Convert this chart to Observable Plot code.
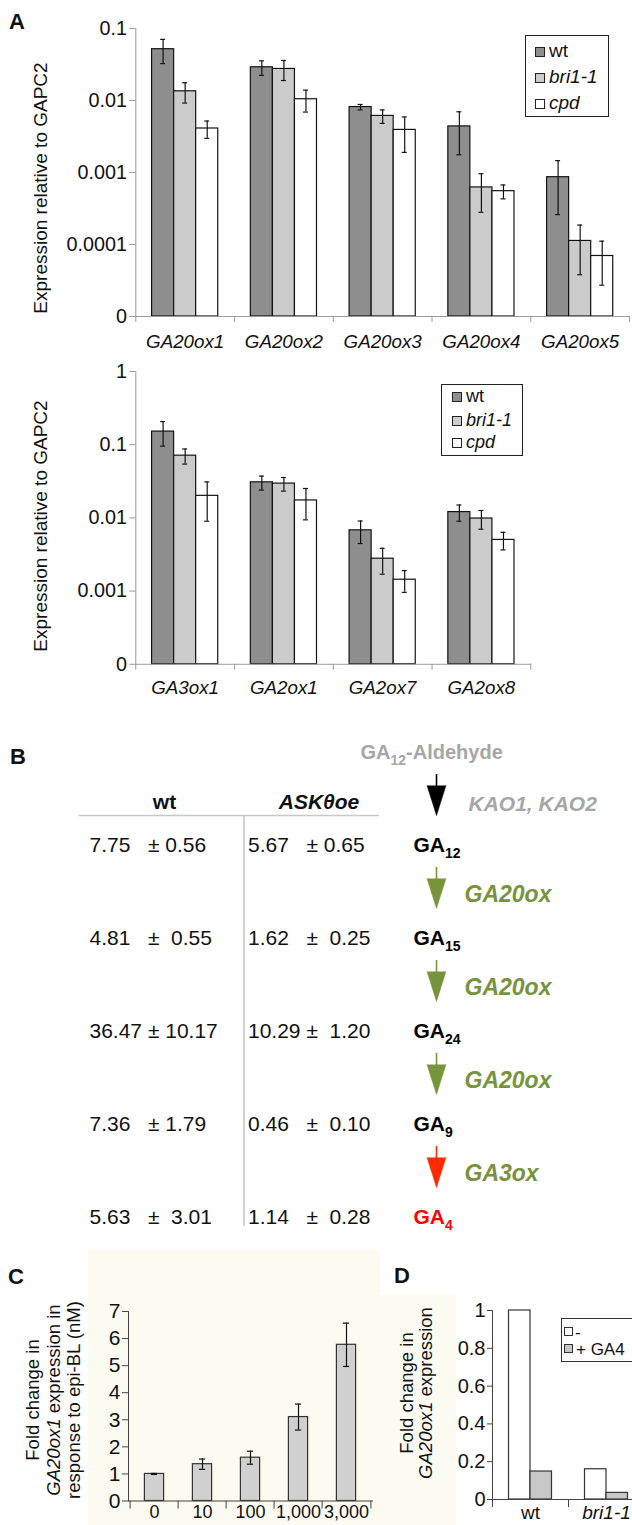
<!DOCTYPE html>
<html><head><meta charset="utf-8">
<script src="https://cdn.jsdelivr.net/npm/d3@7"></script>
<script src="https://cdn.jsdelivr.net/npm/@observablehq/plot@0.6"></script>
<style>
html,body{margin:0;padding:0;background:#fff;overflow:hidden}
#fig{position:relative;width:632px;height:1525px;overflow:hidden;background:#fff;font-family:"Liberation Sans",Arial,Helvetica,sans-serif;color:#111}
</style></head><body><div id="fig"></div>
<script>
// ---------- DATA ----------
const seriesA = ["wt", "bri1-1", "cpd"];
const fillA = ["#8e8e8e", "#cbcbcb", "#ffffff"];

const genesA1 = ["GA20ox1", "GA20ox2", "GA20ox3", "GA20ox4", "GA20ox5"];
const wtA1 = [0.0515, 0.0289, 0.0081, 0.00436, 0.00086];
const wtA1sd = [0.019, 0.0066, 0.0007, 0.0026, 0.0006];
const briA1 = [0.0134, 0.0274, 0.0061, 0.00062, 0.000112];
const briA1sd = [0.0042, 0.0085, 0.0013, 0.00034, 0.000074];
const cpdA1 = [0.00408, 0.0104, 0.0039, 0.00055, 0.0000692];
const cpdA1sd = [0.0011, 0.0035, 0.0020, 0.00012, 0.000042];
const ticksA1 = [0.00001, 0.0001, 0.001, 0.01, 0.1];

const genesA2 = ["GA3ox1", "GA2ox1", "GA2ox7", "GA2ox8"];
const wtA2 = [0.151, 0.0306, 0.00676, 0.0120];
const wtA2sd = [0.0556, 0.0066, 0.0023, 0.0030];
const briA2 = [0.0708, 0.0294, 0.00277, 0.0098];
const briA2sd = [0.0165, 0.0062, 0.00107, 0.0028];
const cpdA2 = [0.0200, 0.0173, 0.00143, 0.0050];
const cpdA2sd = [0.0110, 0.0079, 0.00047, 0.00135];
const ticksA2 = [0.0001, 0.001, 0.01, 0.1, 1];

const compounds = ["GA12-Aldehyde", "GA12", "GA15", "GA24", "GA9", "GA4"];
const compoundColors = ["#a6a6a6", "#000000", "#000000", "#000000", "#000000", "#ff0000"];
const wtCells = ["7.75   ± 0.56", "4.81   ±  0.55", "36.47 ± 10.17", "7.36   ± 1.79", "5.63   ±  3.01"];
const askCells = ["5.67   ± 0.65", "1.62   ±  0.25", "10.29 ±  1.20", "0.46   ±  0.10", "1.14   ±  0.28"];
const enzymes = ["KAO1, KAO2", "GA20ox", "GA20ox", "GA20ox", "GA3ox"];
const arrowColors = ["#000000", "#77933c", "#77933c", "#77933c", "#ff2a00"];
const enzymeColors = ["#a6a6a6", "#77933c", "#77933c", "#77933c", "#77933c"];

const doses = ["0", "10", "100", "1,000", "3,000"];
const foldC = [1.0, 1.36, 1.6, 3.1, 5.77];
const foldCsd = [0.02, 0.19, 0.24, 0.48, 0.8];
const ticksC = [0, 1, 2, 3, 4, 5, 6, 7];

const groupsD = ["wt", "bri1-1"];
const minusD = [1.0, 0.16];
const plusGA4D = [0.148, 0.035];
const ticksD = [0, 0.2, 0.4, 0.6, 0.8, 1];

// ---------- HELPERS ----------
const fig = document.getElementById("fig");
const F = '"Liberation Sans", Arial, Helvetica, sans-serif';
const svgStyle = {background: "transparent", fontFamily: F, overflow: "visible"};
function put(el, left, top) {
  el.style.position = "absolute"; el.style.left = left + "px"; el.style.top = top + "px";
  fig.appendChild(el); return el;
}
function txt(html, left, baseline, size, extra = {}) {
  const d = document.createElement("div"); d.innerHTML = html;
  Object.assign(d.style, {fontSize: size + "px", lineHeight: size + "px", whiteSpace: "nowrap", fontFamily: F}, extra);
  return put(d, left, baseline - 0.8465 * size);
}
function vtitle(html, cx, cy, size, lineH) {
  const d = document.createElement("div"); d.innerHTML = html;
  Object.assign(d.style, {transform: "translate(-50%,-50%) rotate(-90deg)", whiteSpace: "nowrap", textAlign: "center",
    fontSize: size + "px", lineHeight: lineH + "px", fontFamily: F, color: "#111"});
  return put(d, cx, cy);
}
function box(left, top, w, h, style) {
  const d = document.createElement("div");
  Object.assign(d.style, {width: w + "px", height: h + "px", boxSizing: "border-box"}, style);
  return put(d, left, top);
}

// background of panel C
box(88, 1250, 368, 275, {background: "#fbfbf1"});
box(380, 1250, 76, 45, {background: "#ffffff"});

// ---------- PANEL A ----------
function logChart(genes, vals, sds, ticks, o) {
  const band = 100, bw = 22.33, g0 = (band - 3 * bw) / 2;
  const ymin = ticks[0];
  const marks = [];
  seriesA.forEach((s, k) => {
    const rows = genes.map((g, i) => ({g, v: vals[k][i], sd: sds[k][i]}));
    const off = g0 + k * bw;
    const c = off + bw / 2 - band / 2;
    marks.push(Plot.barY(rows, {x: "g", y1: ymin, y2: "v", fill: fillA[k], stroke: "#111", strokeWidth: 1.2,
      insetLeft: off, insetRight: band - off - bw}));
    marks.push(Plot.ruleX(rows, {x: "g", y1: d => d.v - d.sd, y2: d => d.v + d.sd, dx: c, stroke: "#111", strokeWidth: 1.2}));
    for (const f of [d => d.v - d.sd, d => d.v + d.sd]) {
      marks.push(Plot.tickY(rows, {x: "g", y: f, insetLeft: band / 2 + c - 2.5, insetRight: band / 2 - c - 2.5,
        stroke: "#111", strokeWidth: 1.2}));
    }
  });
  marks.push(
    Plot.frame({anchor: "left", stroke: "#999"}),
    Plot.frame({anchor: "bottom", stroke: "#999"}),
    Plot.axisY({ticks, tickFormat: d => d === ymin ? "0" : String(d), tickSize: 6, tickPadding: 3, fontSize: 20,
      stroke: "#999", fill: "#111", label: null}),
    Plot.axisX({tickSize: 0, tickPadding: o.labPad, fontSize: 19, fontStyle: "italic", fill: "#111", label: null}),
    Plot.axisX({ticks: genes, tickSize: 6, tickFormat: () => "", dx: -band / 2, stroke: "#999", label: null}),
    Plot.axisX({ticks: [genes[genes.length - 1]], tickSize: 6, tickFormat: () => "", dx: band / 2, stroke: "#999", label: null})
  );
  return Plot.plot({
    width: 640, height: o.height, marginTop: o.mt, marginBottom: o.mb, marginLeft: 137,
    marginRight: 640 - 137 - band * genes.length, style: svgStyle,
    x: {type: "band", domain: genes, padding: 0, axis: null, label: null},
    y: {type: "log", domain: [ymin, ticks[ticks.length - 1]], axis: null, label: null},
    marks
  });
}

put(logChart(genesA1, [wtA1, briA1, cpdA1], [wtA1sd, briA1sd, cpdA1sd], ticksA1,
  {height: 360, mt: 28.3, mb: 40, labPad: 18}), 0, 0);
put(logChart(genesA2, [wtA2, briA2, cpdA2], [wtA2sd, briA2sd, cpdA2sd], ticksA2,
  {height: 380, mt: 41.5, mb: 42, labPad: 17}), 0, 330);

vtitle("Expression relative to GAPC2", 41, 188, 19, 20);
vtitle("Expression relative to GAPC2", 41, 526, 19, 20);

function legendA(left, top, w, h, baselines, swX, txX, size) {
  box(left, top, w, h, {border: "1.4px solid #222", background: "#fff"});
  seriesA.forEach((s, k) => {
    box(swX, baselines[k] - 10, 10, 10, {border: "1px solid #222", background: fillA[k]});
    txt(s, txX, baselines[k], size, {fontStyle: k === 0 ? "normal" : "italic", color: "#111"});
  });
}
legendA(525, 35, 84, 82, [57, 83, 109], 535, 549, 19);
legendA(441, 384, 82, 72, [402, 426, 448], 452, 466, 18);

// ---------- PANEL B ----------
const bRows = compounds.slice(1).map((c, i) => ({c, wt: wtCells[i], ask: askCells[i]}));
const nb = s => s.replace(/ /g, "\u00a0");
const arrowIdx = enzymes.map((e, i) => i);
const bPlot = Plot.plot({
  width: 632, height: 540, margin: 0, style: svgStyle,
  x: {type: "point", domain: ["wt", "ask", "chain"], range: [88, 413], padding: 0, axis: null, label: null},
  y: {type: "point", domain: compounds, range: [57, 524], padding: 0, axis: null, label: null},
  marks: [
    Plot.ruleY([compounds[0]], {y: d => d, dy: 57, x1: () => "wt", x2: () => "chain", insetLeft: -10, insetRight: 34,
      stroke: "#c8c8c8", strokeWidth: 1.6}),
    Plot.ruleX(["ask"], {x: d => d, dx: -7.5, y1: () => compounds[0], y2: () => compounds[5], insetTop: 57, insetBottom: -3,
      stroke: "#c8c8c8", strokeWidth: 1.6}),
    Plot.text(["wt"], {x: () => "wt", y: () => compounds[0], dx: 75, dy: 50, text: d => d, fontSize: 21,
      fontWeight: "bold", textAnchor: "middle", lineAnchor: "bottom", fill: "#111"}),
    Plot.text(["ASKθoe"], {x: () => "ask", y: () => compounds[0], dx: 67.5, dy: 50, text: d => d, fontSize: 21,
      fontWeight: "bold", fontStyle: "italic", textAnchor: "middle", lineAnchor: "bottom", fill: "#111"}),
    Plot.text(bRows, {x: () => "wt", y: "c", text: d => nb(d.wt), fontSize: 21, textAnchor: "start", lineAnchor: "bottom", fill: "#111"}),
    Plot.text(bRows, {x: () => "ask", y: "c", dx: -3.5, text: d => nb(d.ask), fontSize: 21, textAnchor: "start", lineAnchor: "bottom", fill: "#111"}),
    Plot.text([compounds[0]], {x: () => "chain", y: d => d, dx: -53, text: d => d, fill: compoundColors[0], fontSize: 20,
      fontWeight: "bold", textAnchor: "start", lineAnchor: "bottom"}),
    Plot.text(compounds.slice(1), {x: () => "chain", y: d => d, text: d => d, fill: compoundColors.slice(1), fontSize: 21,
      fontWeight: "bold", textAnchor: "start", lineAnchor: "bottom"}),
    Plot.ruleX(arrowIdx, {x: () => "chain", dx: 23, y1: i => compounds[i], y2: i => compounds[i + 1], insetTop: 16, insetBottom: 64,
      stroke: arrowColors, strokeWidth: 1.6}),
    Plot.vector(arrowIdx, {x: () => "chain", y: i => compounds[i + 1], dx: 23, dy: -66, length: 30, rotate: 180,
      shape: "spike", r: 9.5, anchor: "start", fill: arrowColors, stroke: arrowColors, strokeWidth: 0.5}),
    Plot.text([0], {x: () => "chain", y: i => compounds[i], dx: 55, dy: 52, text: i => enzymes[i], fill: enzymeColors[0],
      fontSize: 21, fontWeight: "bold", fontStyle: "italic", textAnchor: "start", lineAnchor: "bottom"}),
    Plot.text(arrowIdx.slice(1), {x: () => "chain", y: i => compounds[i], dx: 51, dy: 50, text: i => enzymes[i],
      fill: enzymeColors.slice(1), fontSize: 23, fontWeight: "bold", fontStyle: "italic", textAnchor: "start", lineAnchor: "bottom"})
  ]
});
// subscripts for the GA numbers (GA12, GA15, ... and GA12-Aldehyde)
(function subscriptify(svg) {
  const NS = "http://www.w3.org/2000/svg";
  svg.querySelectorAll("text").forEach(t => {
    const m = t.textContent.match(/^GA(\d+)(-Aldehyde)?$/);
    if (!m) return;
    while (t.firstChild) t.removeChild(t.firstChild);
    t.appendChild(document.createTextNode("GA"));
    const s = document.createElementNS(NS, "tspan");
    s.setAttribute("dy", "6"); s.setAttribute("font-size", "14"); s.textContent = m[1]; t.appendChild(s);
    if (m[2]) {
      const r = document.createElementNS(NS, "tspan");
      r.setAttribute("dy", "-6"); r.textContent = m[2]; t.appendChild(r);
    }
  });
})(bPlot);
put(bPlot, 0, 700);

// ---------- PANEL C ----------
const cRows = doses.map((d, i) => ({dose: d, v: foldC[i], sd: foldCsd[i]}));
const bandC = 244 / doses.length;
put(Plot.plot({
  width: 440, height: 280, marginTop: 66, marginBottom: 24.5, marginLeft: 128, marginRight: 440 - 372, style: svgStyle,
  x: {type: "band", domain: doses, padding: 0, axis: null, label: null},
  y: {domain: [0, 7], axis: null, label: null},
  marks: [
    Plot.barY(cRows, {x: "dose", y: "v", fill: "#d0d0d0", stroke: "#333", strokeWidth: 1.2, insetLeft: (bandC - 20) / 2, insetRight: (bandC - 20) / 2}),
    Plot.ruleX(cRows, {x: "dose", y1: d => d.v - d.sd, y2: d => d.v + d.sd, stroke: "#111", strokeWidth: 1.2}),
    Plot.tickY(cRows, {x: "dose", y: d => d.v - d.sd, insetLeft: bandC / 2 - 3.5, insetRight: bandC / 2 - 3.5, stroke: "#111", strokeWidth: 1.2}),
    Plot.tickY(cRows, {x: "dose", y: d => d.v + d.sd, insetLeft: bandC / 2 - 3.5, insetRight: bandC / 2 - 3.5, stroke: "#111", strokeWidth: 1.2}),
    Plot.frame({anchor: "left", stroke: "#444"}),
    Plot.frame({anchor: "bottom", stroke: "#444"}),
    Plot.axisY({ticks: ticksC, tickFormat: d => String(d), tickSize: 6, tickPadding: 2, fontSize: 21, stroke: "#444", fill: "#111", label: null}),
    Plot.axisX({tickSize: 0, tickPadding: 4, fontSize: 18, fill: "#111", label: null}),
    Plot.axisX({ticks: doses, tickSize: 8, tickFormat: () => "", dx: -bandC / 2, stroke: "#444", label: null}),
    Plot.axisX({ticks: [doses[doses.length - 1]], tickSize: 8, tickFormat: () => "", dx: bandC / 2, stroke: "#444", label: null})
  ]
}), 0, 1245);
vtitle("Fold change in<br><i>GA20ox1</i> expression in<br>response to epi-BL (nM)", 54, 1400, 18.5, 20.5);

// ---------- PANEL D ----------
const dRows = groupsD.map((g, i) => ({g, minus: minusD[i], plus: plusGA4D[i]}));
const bandD = 76;
put(Plot.plot({
  width: 260, height: 280, marginTop: 65, marginBottom: 26, marginLeft: 100, marginRight: 260 - 100 - 2 * bandD, style: svgStyle,
  x: {type: "band", domain: groupsD, padding: 0, axis: null, label: null},
  y: {domain: [0, 1], axis: null, label: null},
  marks: [
    Plot.barY(dRows, {x: "g", y: "minus", fill: "#ffffff", stroke: "#333", strokeWidth: 1.2, insetLeft: 16.5, insetRight: 38}),
    Plot.barY(dRows, {x: "g", y: "plus", fill: "#c8c8c8", stroke: "#333", strokeWidth: 1.2, insetLeft: 38, insetRight: 16.5}),
    Plot.frame({anchor: "left", stroke: "#444"}),
    Plot.frame({anchor: "bottom", stroke: "#444"}),
    Plot.axisY({ticks: ticksD, tickFormat: d => String(d), tickSize: 5, tickPadding: 2, fontSize: 20, stroke: "#444", fill: "#111", label: null}),
    Plot.axisX({ticks: [groupsD[0]], tickSize: 0, tickPadding: 6, fontSize: 19, fill: "#111", label: null}),
    Plot.axisX({ticks: [groupsD[1]], tickSize: 0, tickPadding: 6, fontSize: 19, fontStyle: "italic", fill: "#111", label: null}),
    Plot.axisX({ticks: groupsD, tickSize: 8, tickFormat: () => "", dx: -bandD / 2, stroke: "#444", label: null})
  ]
}), 392, 1245);
vtitle("Fold change in<br><i>GA20ox1</i> expression", 416, 1393, 18.5, 19);
box(561, 1318, 80, 44, {border: "1.4px solid #333", background: "#fff"});
box(564, 1327, 9, 9, {border: "1px solid #333", background: "#fff"});
txt("-", 575, 1338, 17);
box(564, 1344, 9, 9, {border: "1px solid #333", background: "#c8c8c8"});
txt("+ GA4", 576, 1355, 17);

// ---------- PANEL LETTERS ----------
txt("A", 9, 30, 22, {fontWeight: "bold"});
txt("B", 10, 765, 22, {fontWeight: "bold"});
txt("C", 8, 1285, 22, {fontWeight: "bold"});
txt("D", 394, 1284, 22, {fontWeight: "bold"});
</script></body></html>
